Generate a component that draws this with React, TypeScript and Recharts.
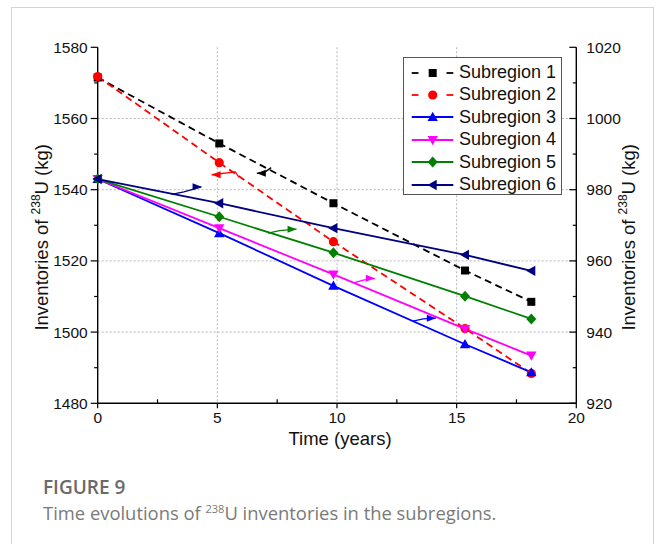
import React from 'react';
import { LineChart, Line, XAxis, YAxis, CartesianGrid } from 'recharts';

// ---- data ----
const times = [0, 5.08, 9.85, 15.35, 18.12];
const sub1 = [1571.5, 1553.0, 1536.2, 1517.3, 1508.5];
const sub2 = [1571.8, 1547.6, 1525.4, 1501.0, 1488.4];
const sub3 = [983.0, 967.8, 953.0, 936.6, 928.7];
const sub4 = [983.0, 969.2, 956.2, 940.9, 933.4];
const sub5 = [983.0, 972.4, 962.3, 950.1, 943.7];
const sub6 = [983.0, 976.2, 969.2, 961.7, 957.2];

const xTicks = [0, 2.5, 5, 7.5, 10, 12.5, 15, 17.5, 20];
const xMajor = [0, 5, 10, 15, 20];
const leftTicks = [1480, 1490, 1500, 1510, 1520, 1530, 1540, 1550, 1560, 1570, 1580];
const leftMajor = [1480, 1500, 1520, 1540, 1560, 1580];
const rightTicks = [920, 930, 940, 950, 960, 970, 980, 990, 1000, 1010, 1020];
const rightMajor = [920, 940, 960, 980, 1000, 1020];
const gridX = [5, 10, 15];
const gridY = [1500, 1520, 1540, 1560];

// annotation arrows: [tailT, tailV, elbowT, elbowV, headT, headV]
const arrow1 = [7.25, 1546.2, 7.0, 1545.0, 6.65, 1544.6];
const arrow2 = [5.9, 1543.5, 5.75, 1545.0, 4.76, 1544.2];
const arrow3 = [13.18, 943.1, 13.6, 943.7, 14.13, 943.9];
const arrow4 = [10.74, 953.9, 11.1, 954.6, 11.58, 955.1];
const arrow5 = [7.12, 967.8, 7.6, 968.5, 8.31, 968.9];
const arrow6 = [3.09, 978.7, 3.6, 979.4, 4.34, 980.8];

const data = times.map((t, i) => ({
  t,
  s1: sub1[i],
  s2: sub2[i],
  s3: sub3[i],
  s4: sub4[i],
  s5: sub5[i],
  s6: sub6[i],
}));

type Shape = 'square' | 'circle' | 'up' | 'down' | 'diamond' | 'left';

const series: { key: string; name: string; color: string; shape: Shape; dashed: boolean; axis: string }[] = [
  { key: 's1', name: 'Subregion 1', color: '#000000', shape: 'square', dashed: true, axis: 'left' },
  { key: 's2', name: 'Subregion 2', color: '#ff0000', shape: 'circle', dashed: true, axis: 'left' },
  { key: 's3', name: 'Subregion 3', color: '#0000ff', shape: 'up', dashed: false, axis: 'right' },
  { key: 's4', name: 'Subregion 4', color: '#ff00ff', shape: 'down', dashed: false, axis: 'right' },
  { key: 's5', name: 'Subregion 5', color: '#008000', shape: 'diamond', dashed: false, axis: 'right' },
  { key: 's6', name: 'Subregion 6', color: '#000080', shape: 'left', dashed: false, axis: 'right' },
];

const arrows = [
  { a: arrow1, color: '#000000', axis: 'left' },
  { a: arrow2, color: '#ff0000', axis: 'left' },
  { a: arrow3, color: '#0000ff', axis: 'right' },
  { a: arrow4, color: '#ff00ff', axis: 'right' },
  { a: arrow5, color: '#008000', axis: 'right' },
  { a: arrow6, color: '#000080', axis: 'right' },
];

const FONT = 'Liberation Sans, Arial, Helvetica, sans-serif';

function marker(shape: Shape, cx: number, cy: number, color: string, key?: string | number) {
  const s = 4.6;
  switch (shape) {
    case 'square':
      return <rect key={key} x={cx - 4} y={cy - 4} width={8} height={8} fill={color} />;
    case 'circle':
      return <circle key={key} cx={cx} cy={cy} r={4.6} fill={color} />;
    case 'up':
      return <polygon key={key} points={`${cx},${cy - s - 0.6} ${cx - s - 0.6},${cy + s - 0.6} ${cx + s + 0.6},${cy + s - 0.6}`} fill={color} />;
    case 'down':
      return <polygon key={key} points={`${cx},${cy + s + 0.6} ${cx - s - 0.6},${cy - s + 0.6} ${cx + s + 0.6},${cy - s + 0.6}`} fill={color} />;
    case 'diamond':
      return <polygon key={key} points={`${cx},${cy - 5.5} ${cx + 5},${cy} ${cx},${cy + 5.5} ${cx - 5},${cy}`} fill={color} />;
    case 'left':
      return <polygon key={key} points={`${cx - s - 0.6},${cy} ${cx + s - 0.6},${cy - s - 0.6} ${cx + s - 0.6},${cy + s + 0.6}`} fill={color} />;
  }
  return null;
}

const LeftTick = (props: any) => {
  const { x, y, payload } = props;
  const major = leftMajor.includes(payload.value);
  return (
    <g>
      <line x1={x} x2={x - (major ? 7 : 3.5)} y1={y} y2={y} stroke="#000" strokeWidth={1.2} />
      {major && (
        <text x={x - 10} y={y} dy={5.5} textAnchor="end" fontSize={15.5} fontFamily={FONT} fill="#111">
          {payload.value}
        </text>
      )}
    </g>
  );
};

const RightTick = (props: any) => {
  const { x, y, payload } = props;
  const major = rightMajor.includes(payload.value);
  return (
    <g>
      <line x1={x} x2={x - (major ? 7 : 3.5)} y1={y} y2={y} stroke="#000" strokeWidth={1.2} />
      {major && (
        <text x={x + 10} y={y} dy={5.5} textAnchor="start" fontSize={15.5} fontFamily={FONT} fill="#111">
          {payload.value}
        </text>
      )}
    </g>
  );
};

const BottomTick = (props: any) => {
  const { x, y, payload } = props;
  const major = xMajor.includes(payload.value);
  return (
    <g>
      {major ? (
        <line x1={x} x2={x} y1={y} y2={y + 5} stroke="#000" strokeWidth={1.2} />
      ) : (
        <line x1={x} x2={x} y1={y} y2={y - 4} stroke="#000" strokeWidth={1.2} />
      )}
      {major && (
        <text x={x} y={y + 20} textAnchor="middle" fontSize={15.5} fontFamily={FONT} fill="#111">
          {payload.value}
        </text>
      )}
    </g>
  );
};

const TopTick = (props: any) => {
  const { x, y, payload } = props;
  const major = xMajor.includes(payload.value);
  return <line x1={x} x2={x} y1={y} y2={y + (major ? 6.5 : 3.5)} stroke="#000" strokeWidth={1.2} />;
};

const YLabel = (props: any) => {
  const { viewBox, side } = props;
  const cy = viewBox.y + viewBox.height / 2 + 12;
  const cx = side === 'left' ? 41 : 628;
  return (
    <text
      transform={`translate(${cx},${cy}) rotate(-90)`}
      textAnchor="middle"
      dy={6.5}
      fontSize={18.5}
      fontFamily={FONT}
      fill="#111"
    >
      <tspan>Inventories of </tspan>
      <tspan dy={-7.5} fontSize={12}>238</tspan>
      <tspan dy={7.5}>U (kg)</tspan>
    </text>
  );
};

const XLabel = (props: any) => {
  const { viewBox } = props;
  const cx = viewBox.x + viewBox.width / 2 + 3;
  return (
    <text x={cx} y={445} textAnchor="middle" fontSize={18.5} fontFamily={FONT} fill="#111">
      Time (years)
    </text>
  );
};

const makeDot = (shape: Shape, color: string) => (p: any) => {
  if (p.cx == null || p.cy == null) return <g key={p.index} />;
  return marker(shape, p.cx, p.cy, color, p.index);
};

const makeArrowHead = (color: string, dir: number) => (p: any) => {
  if (p.index !== 2 || p.cx == null) return <g key={p.index} />;
  const { cx, cy } = p;
  return (
    <polygon
      key={p.index}
      points={`${cx},${cy} ${cx - dir * 9},${cy - 3.5} ${cx - dir * 9},${cy + 3.5}`}
      fill={color}
    />
  );
};

function Legend() {
  return (
    <div
      style={{
        position: 'absolute',
        left: 403,
        top: 57,
        width: 159,
        height: 138,
        border: '1px solid #555',
        background: '#fff',
        boxSizing: 'border-box',
        fontFamily: FONT,
      }}
    >
      {series.map((s, i) => (
        <div
          key={s.key}
          style={{ position: 'absolute', left: 0, top: 3.5 + i * 22.4, height: 22, display: 'flex', alignItems: 'center' }}
        >
          <svg width={52} height={22} style={{ display: 'block' }}>
            {s.dashed ? (
              <g>
                <line x1={7.7} x2={14.5} y1={11} y2={11} stroke={s.color} strokeWidth={1.8} />
                <line x1={42.5} x2={49.3} y1={11} y2={11} stroke={s.color} strokeWidth={1.8} />
              </g>
            ) : (
              <line x1={7.7} x2={49.3} y1={11} y2={11} stroke={s.color} strokeWidth={1.8} />
            )}
            {marker(s.shape, 28.7, 11, s.color)}
          </svg>
          <span style={{ fontSize: 18, color: '#111', marginLeft: 3, whiteSpace: 'nowrap' }}>{s.name}</span>
        </div>
      ))}
    </div>
  );
}

export default function App() {
  return (
    <div
      style={{
        position: 'absolute',
        left: 0,
        top: 0,
        width: 657,
        height: 544,
        overflow: 'hidden',
        background: '#fff',
      }}
    >
      <div
        style={{
          position: 'absolute',
          left: 11,
          top: 7,
          width: 643,
          height: 600,
          border: '1px solid #d4d4d4',
          boxSizing: 'border-box',
        }}
      />
      <div style={{ position: 'absolute', left: 0, top: 0 }}>
        <LineChart
          width={657}
          height={460}
          margin={{ top: 47.3, right: 30.7, bottom: 26.7, left: 47.7 }}
        >
          <CartesianGrid
            xAxisId="main"
            yAxisId="left"
            horizontalValues={gridY}
            verticalValues={gridX}
            stroke="#b5b5b5"
            strokeDasharray="2 2"
          />
          <XAxis
            xAxisId="main"
            type="number"
            dataKey="t"
            domain={[0, 20]}
            ticks={xTicks}
            interval={0}
            tick={<BottomTick />}
            tickLine={false}
            tickSize={0}
            tickMargin={0}
            height={30}
            stroke="#000"
            strokeWidth={1.4}
            label={<XLabel />}
          />
          <XAxis
            xAxisId="top"
            orientation="top"
            type="number"
            dataKey="t"
            domain={[0, 20]}
            ticks={xTicks}
            interval={0}
            tick={<TopTick />}
            tickLine={false}
            tickSize={0}
            tickMargin={0}
            height={0}
            stroke="#000"
            strokeWidth={1.4}
          />
          <YAxis
            yAxisId="left"
            domain={[1480, 1580]}
            ticks={leftTicks}
            interval={0}
            tick={<LeftTick />}
            tickLine={false}
            tickSize={0}
            tickMargin={0}
            width={50}
            stroke="#000"
            strokeWidth={1.4}
            allowDataOverflow
            label={<YLabel side="left" />}
          />
          <YAxis
            yAxisId="right"
            orientation="right"
            domain={[920, 1020]}
            ticks={rightTicks}
            interval={0}
            tick={<RightTick />}
            tickLine={false}
            tickSize={0}
            tickMargin={0}
            width={50}
            stroke="#000"
            strokeWidth={1.4}
            allowDataOverflow
            label={<YLabel side="right" />}
          />
          {series.map((s) => (
            <Line
              key={s.key}
              data={data}
              xAxisId="main"
              yAxisId={s.axis}
              dataKey={s.key}
              stroke={s.color}
              strokeWidth={1.8}
              strokeDasharray={s.dashed ? '7 4.5' : undefined}
              dot={makeDot(s.shape, s.color)}
              activeDot={false}
              isAnimationActive={false}
            />
          ))}
          {arrows.map((ar, i) => (
            <Line
              key={'arrow' + i}
              data={[
                { t: ar.a[0], v: ar.a[1] },
                { t: ar.a[2], v: ar.a[3] },
                { t: ar.a[4], v: ar.a[5] },
              ]}
              xAxisId="main"
              yAxisId={ar.axis}
              dataKey="v"
              stroke={ar.color}
              strokeWidth={1.3}
              dot={makeArrowHead(ar.color, ar.a[4] > ar.a[2] ? 1 : -1)}
              activeDot={false}
              isAnimationActive={false}
            />
          ))}
        </LineChart>
      </div>
      <Legend />
      <div
        style={{
          position: 'absolute',
          left: 43,
          top: 474,
          fontFamily: '"Open Sans", sans-serif',
          fontSize: 19,
          fontWeight: 600,
          color: '#6a6a6a',
          whiteSpace: 'nowrap',
        }}
      >
        FIGURE 9
      </div>
      <div
        style={{
          position: 'absolute',
          left: 43,
          top: 500,
          fontFamily: '"Open Sans", sans-serif',
          fontSize: 18.4,
          color: '#7a7a7a',
          whiteSpace: 'nowrap',
        }}
      >
        Time evolutions of <sup style={{ fontSize: 11, verticalAlign: 'baseline', position: 'relative', top: -7 }}>238</sup>U inventories in the subregions.
      </div>
    </div>
  );
}
